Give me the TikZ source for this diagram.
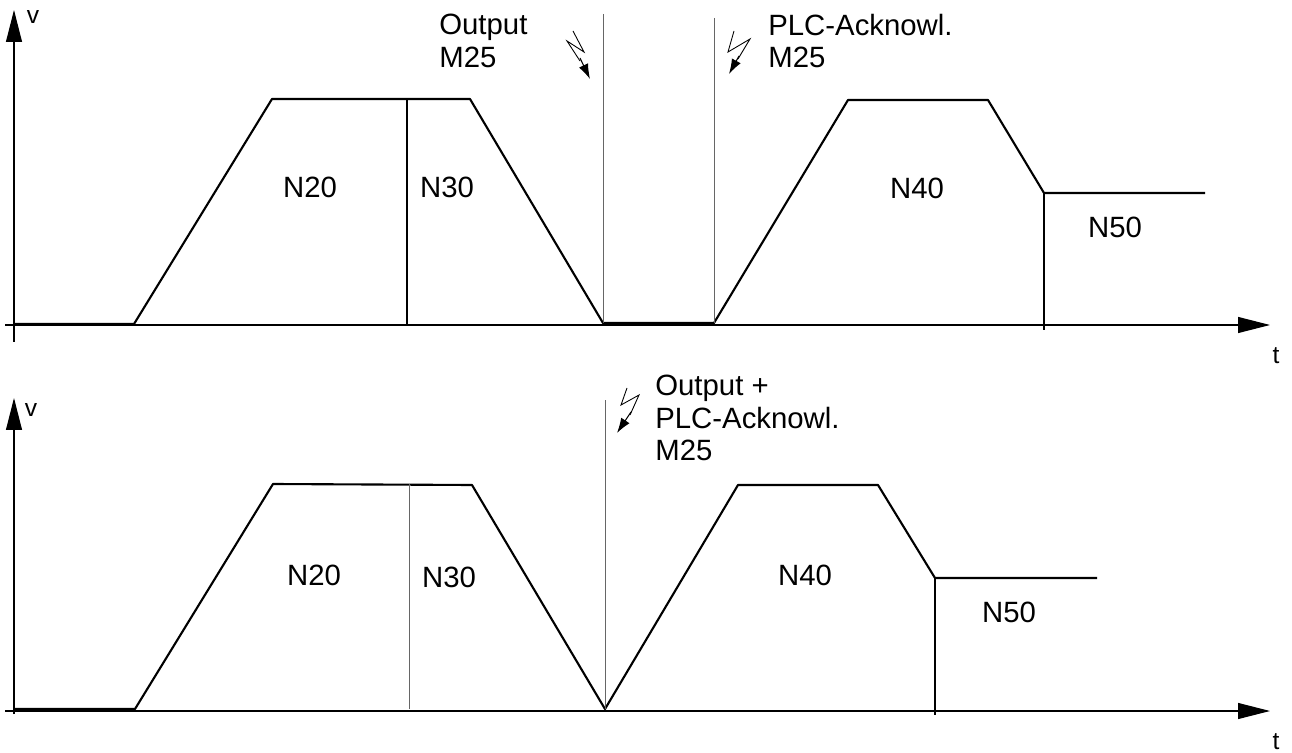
\documentclass[tikz,border=0pt]{standalone}
\usepackage{fontspec}
\setmainfont{Liberation Sans}
\usetikzlibrary{arrows.meta}
\begin{document}
\begin{tikzpicture}[
        x=0.02cm, y=-0.02cm,
        axis/.style={line width=0.6pt, -{Triangle[length=0.64cm,width=0.32cm]}},
        profile/.style={line width=1.2pt, line join=round},
        block/.style={line width=0.9pt},
        marker/.style={line width=0.5pt, black!60},
        flash/.style={line width=0.5pt},
        flasharrow/.style={line width=0.6pt, -{Latex[length=0.3cm,width=0.2cm]}},
        lbl/.style={inner sep=0pt, font=\fontsize{16.7}{18.4}\selectfont},
        axlbl/.style={inner sep=0pt, font=\fontsize{14}{16}\selectfont},
        note/.style={lbl, align=left, anchor=north west}
    ]
    \useasboundingbox (0,0) rectangle (1292,753);

        % Oben: Achsen
        \coordinate (vtop0) at (14,342);
        \coordinate (vtop1) at (14,10);
        \coordinate (ttop0) at (5,325);
        \coordinate (ttop1) at (1270,325);
        \draw[axis] (vtop0) -- (vtop1);
        \draw[axis] (ttop0) -- (ttop1);
        \node[axlbl] (vtop) at (33,17) {v};
        \node[axlbl] (ttop) at (1276,356) {t};

        % Oben: Geschwindigkeitsprofil
        \draw[profile] (14,324) -- (134,324) -- (272,99) -- (470,99) -- (603,323)
            -- (714,323) -- (848,100) -- (988,100) -- (1044,193) -- (1205,193);
        \draw[block] (407,99) -- (407,325);
        \draw[block] (1044,193) -- (1044,330);
        \draw[marker] (603,14) -- (603,323);
        \draw[marker] (714,18) -- (714,323);

        % Oben: Satzbezeichnungen
        \node[lbl] (n20top) at (310,187) {N20};
        \node[lbl] (n30top) at (447,187) {N30};
        \node[lbl] (n40top) at (917,188) {N40};
        \node[lbl] (n50top) at (1115,227) {N50};

        % Oben: Ausgabe und Quittung
        \node[note] (outtop) at (439,14) {Output\\M25};
        \node[note] (acktop) at (768,14) {PLC-Acknowl.\\M25};
        \draw[flash] (573,31) -- (584,52) -- (567,41) -- (580,61);
        \draw[flasharrow] (580,58) -- (590,79);
        \draw[flash] (734,31) -- (728,52) -- (750,39) -- (738,59);
        \draw[flasharrow] (739,56) -- (729,74);

        % Unten: Achsen
        \coordinate (vbot0) at (14,714);
        \coordinate (vbot1) at (14,398);
        \coordinate (tbot0) at (5,711);
        \coordinate (tbot1) at (1270,711);
        \draw[axis] (vbot0) -- (vbot1);
        \draw[axis] (tbot0) -- (tbot1);
        \node[axlbl] (vbot) at (31,410) {v};
        \node[axlbl] (tbot) at (1276,742) {t};

        % Unten: Geschwindigkeitsprofil
        \draw[profile] (14,709) -- (135,709) -- (273,484) -- (472,485) -- (605,709)
            -- (738,485) -- (878,485) -- (935,578) -- (1097,578);
        \draw[marker] (409,484) -- (409,709);
        \draw[block] (935,578) -- (935,715);
        \draw[marker] (605,400) -- (605,709);

        % Unten: Satzbezeichnungen
        \node[lbl] (n20bot) at (314,575) {N20};
        \node[lbl] (n30bot) at (449,577) {N30};
        \node[lbl] (n40bot) at (805,575) {N40};
        \node[lbl] (n50bot) at (1009,612) {N50};

        % Unten: Ausgabe + Quittung
        \node[note] (outbot) at (655,375) {Output +\\PLC-Acknowl.\\M25};
        \draw[flash] (627,388) -- (621,405) -- (639,395) -- (630,415);
        \draw[flasharrow] (631,412) -- (617,433);

    \end{tikzpicture}
\end{document}
